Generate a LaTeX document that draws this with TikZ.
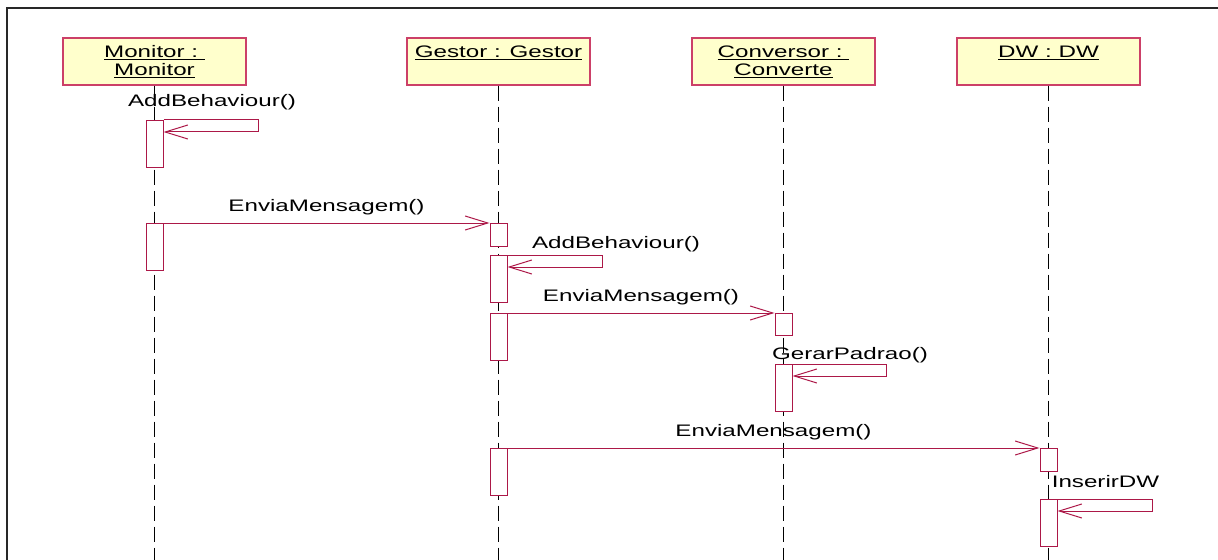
\documentclass[tikz,border=0pt]{standalone}
\usepackage{fontspec}
\setmainfont{Liberation Sans}[FakeStretch=1.45]
\usetikzlibrary{positioning,arrows.meta}
\definecolor{rosered}{RGB}{172,24,72}
\definecolor{boxpink}{RGB}{204,64,104}
\definecolor{notepad}{RGB}{255,255,204}
\definecolor{framegray}{RGB}{40,40,40}
\tikzset{obj/.style={rectangle,draw=boxpink,fill=notepad,line width=1pt,minimum width=137.25pt,minimum height=35.25pt,inner sep=0pt},
         objname/.style={align=center,inner sep=0pt,anchor=north,yshift=-6pt},
         lifeline/.style={draw=black,line width=0.75pt,dash pattern=on 11.25pt off 4.5pt},
         act/.style={rectangle,draw=rosered,fill=white,line width=0.75pt,minimum width=12.75pt,inner sep=0pt,anchor=north},
         msg/.style={->,>={Straight Barb[length=17pt,width=10.5pt]},draw=rosered,line width=0.75pt},
         selflbl/.style={inner sep=0pt,anchor=base},
         lbl/.style={selflbl,yshift=9pt}
}

\begin{document}
\begin{tikzpicture}[x=0.75pt,y=-0.75pt,font=\fontsize{12.5}{13.5}\selectfont]
  \useasboundingbox (0,0) rectangle (1218,560);
  \draw[line width=1.5pt,draw=framegray] (7,560) -- (7,8) -- (1218,8);
  \node[obj] (mon)  at (154.5,61.5)  {};
  \node[obj] (ges)  at (498.5,61.5)  {};
  \node[obj] (conv) at (783.5,61.5)  {};
  \node[obj] (dw)   at (1048.5,61.5) {};
  \node[objname] (monname)  at (mon.north)  {\underline{Monitor :\ }\\\underline{Monitor}};
  \node[objname] (gesname)  at (ges.north)  {\underline{Gestor : Gestor}};
  \node[objname] (convname) at (conv.north) {\underline{Conversor :\ }\\\underline{Converte}};
  \node[objname] (dwname)   at (dw.north)   {\underline{DW : DW}};
  \foreach \o in {mon,ges,conv,dw}
    \draw[lifeline] (\o.south) -- (\o.south |- 0,560);
  \node[act,minimum height=35.25pt] (m1) at (mon.south |- 0,120)  {};
  \node[act,minimum height=35.25pt] (m2) at (mon.south |- 0,223)  {};
  \node[act,minimum height=17.25pt] (g1) at (ges.south |- 0,223)  {};
  \node[act,minimum height=35.25pt] (g2) at (ges.south |- 0,255)  {};
  \node[act,minimum height=35.25pt] (g3) at (ges.south |- 0,313)  {};
  \node[act,minimum height=35.25pt] (g4) at (ges.south |- 0,448)  {};
  \node[act,minimum height=16.5pt]  (c1) at (conv.south |- 0,313) {};
  \node[act,minimum height=35.25pt] (c2) at (conv.south |- 0,364) {};
  \node[act,minimum height=17.25pt] (d1) at (dw.south |- 0,448)   {};
  \node[act,minimum height=35.25pt] (d2) at (dw.south |- 0,499)   {};
  \draw[msg] (m1.north east) -- ++(95,0) -- ++(0,12) -- ([yshift=-9pt]m1.north east);
  \draw[msg] (m2.north east) -- node[lbl] (em1) {EnviaMensagem()} (g1.north west);
  \draw[msg] (g2.north east) -- ++(95,0) -- ++(0,12) -- ([yshift=-9pt]g2.north east);
  \draw[msg] (g3.north east) -- node[lbl] (em2) {EnviaMensagem()} (c1.north west);
  \draw[msg] (c2.north east) -- ++(94,0) -- ++(0,12) -- ([yshift=-9pt]c2.north east);
  \draw[msg] (g4.north east) -- node[lbl] (em3) {EnviaMensagem()} (d1.north west);
  \draw[msg] (d2.north east) -- ++(95,0) -- ++(0,12) -- ([yshift=-9pt]d2.north east);
  \node[selflbl] (ab1) at (212,107)    {AddBehaviour()};
  \node[selflbl] (ab2) at (616,248)    {AddBehaviour()};
  \node[selflbl] (gp)  at (850,359)    {GerarPadrao()};
  \node[selflbl] (ins) at (1105.5,487) {InserirDW};
\end{tikzpicture}
\end{document}
